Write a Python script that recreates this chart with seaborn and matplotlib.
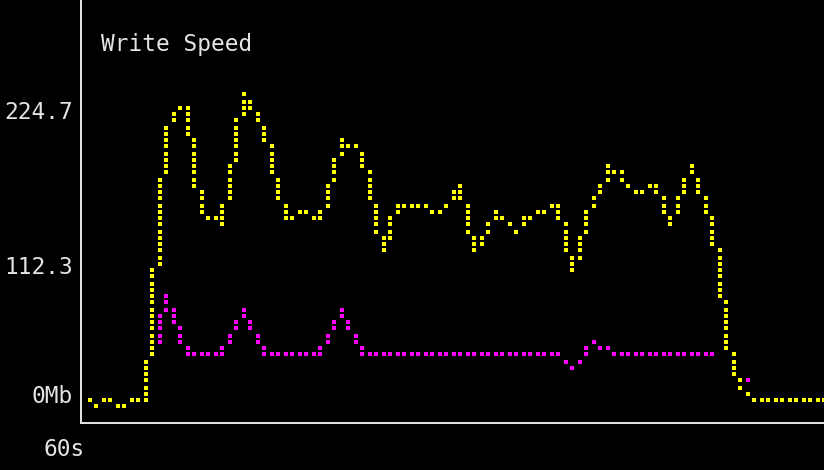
import numpy as np
import pandas as pd
import matplotlib
matplotlib.use("Agg")
import matplotlib.pyplot as plt
import seaborn as sns

# ---------------- data (Mb/s per sample) ----------------
TITLE = "Write Speed"
Y_TICK_LABELS = ["224.7", "112.3", "0Mb"]
X_LABEL = "60s"
SCALE_MAX_MB = 224.7

samples = list(range(106))

write_total = [
    4.68, 0.0, 4.68, 4.68, 0.0, 0.0, 4.68, 2.81, 4.68, 65.54,
    135.76, 196.61, 210.66, 215.34, 215.34, 173.21, 141.37, 135.76, 135.76, 131.08,
    163.84, 188.19, 224.70, 218.15, 208.78, 197.55, 180.70, 154.48, 137.63, 135.76,
    140.44, 140.44, 135.76, 133.88, 154.48, 168.53, 191.93, 187.25, 187.25, 180.70,
    161.03, 133.88, 112.35, 131.08, 145.12, 145.12, 145.12, 145.12, 145.12, 140.44,
    140.44, 145.12, 151.67, 159.16, 135.76, 112.35, 121.71, 129.20, 140.44, 135.76,
    131.08, 126.39, 133.88, 137.63, 140.44, 140.44, 145.12, 145.12, 121.71, 98.31,
    117.03, 132.95, 149.80, 152.61, 173.21, 168.53, 166.65, 159.16, 154.48, 154.48,
    159.16, 159.16, 146.99, 131.08, 146.99, 158.23, 173.21, 159.16, 146.99, 128.27,
    101.12, 53.37, 26.22, 15.92, 9.36, 4.68, 4.68, 4.68, 4.68, 4.68,
    4.68, 4.68, 4.68, 4.68, 4.68, 4.68,
]

write_other = [
    None, None, None, None, None, None, None, None, None, 37.45,
    56.18, 79.58, 65.54, 51.49, 37.45, 37.45, 37.45, 37.45, 37.45, 37.45,
    49.62, 58.05, 70.22, 58.05, 49.62, 37.45, 37.45, 37.45, 37.45, 37.45,
    37.45, 37.45, 37.45, 37.45, 49.62, 58.05, 70.22, 58.05, 49.62, 37.45,
    37.45, 37.45, 37.45, 37.45, 37.45, 37.45, 37.45, 37.45, 37.45, 37.45,
    37.45, 37.45, 37.45, 37.45, 37.45, 37.45, 37.45, 37.45, 37.45, 37.45,
    37.45, 37.45, 37.45, 37.45, 37.45, 37.45, 37.45, 37.45, 32.77, 28.09,
    32.77, 40.26, 46.81, 42.13, 42.13, 37.45, 37.45, 37.45, 37.45, 37.45,
    37.45, 37.45, 37.45, 37.45, 37.45, 37.45, 37.45, 37.45, 37.45, 37.45,
    None, None, None, None, 18.73, None, None, None, None, None,
    None, None, None, None, None, None,
]

# ---------------- layout / style ----------------
W_PX, H_PX, DPI = 824, 470, 100
AX_LEFT_PX, AX_BOTTOM_PX = 81, 423
ZERO_ROW_PX = 406          # pixel row of the lowest braille dot
ROWS = 48                  # braille dot rows from 0 to the scale max
FIRST_COL_PX = 90
COL_STEP_PX = 7
CELL_H, DOT_DY = 26, 6
TEXT_COLOR = "#e4e4e4"
AXIS_COLOR = "#e0e0e0"
YELLOW, MAGENTA = "#ffff00", "#ff00ff"
FONT = "DejaVu Sans Mono"
FONT_PT = 16.4
DOT_PX = 4.0

mb_per_row = SCALE_MAX_MB / ROWS
mb_per_px = SCALE_MAX_MB / (CELL_H * ROWS / 4)


def braille_dots(values, xs):
    """Rasterise a line through the samples onto the braille dot grid."""
    v = np.array([np.nan if a is None else a for a in values], float) / mb_per_row
    out_x, out_y = [], []
    n = len(v)
    for i in range(n):
        if np.isnan(v[i]):
            continue
        pts = [v[i]]
        for j in (i - 1, i + 1):
            if 0 <= j < n and not np.isnan(v[j]):
                pts.append((v[i] + v[j]) / 2)
        lo, hi = min(pts), max(pts)
        rows = set(range(int(np.ceil(lo - 0.01)), int(np.floor(hi + 0.01)) + 1))
        rows.add(int(round(v[i])))
        for k in sorted(rows):
            # braille cells: 2 dot columns x 4 dot rows
            out_x.append(xs[i] - (xs[i] % 2) / COL_STEP_PX)
            out_y.append((CELL_H * (k // 4) + DOT_DY * (k % 4)) * mb_per_px)
    return pd.DataFrame({"t": out_x, "mb": out_y})


sns.set_style("dark")
plt.rcParams["font.family"] = [FONT, "DejaVu Sans"]

fig = plt.figure(figsize=(W_PX / DPI, H_PX / DPI), dpi=DPI, facecolor="black")
ax = fig.add_axes([AX_LEFT_PX / W_PX, (H_PX - AX_BOTTOM_PX) / H_PX,
                   (W_PX - AX_LEFT_PX) / W_PX, AX_BOTTOM_PX / H_PX])
ax.set_facecolor("black")

marker_area = (DOT_PX * 72 / DPI) ** 2
other_df = braille_dots(write_other, samples)
total_df = braille_dots(write_total, samples)
sns.scatterplot(data=other_df, x="t", y="mb", ax=ax, marker="s", s=marker_area,
                color=MAGENTA, linewidth=0, edgecolor="none", legend=False, zorder=2)
sns.scatterplot(data=total_df, x="t", y="mb", ax=ax, marker="s", s=marker_area,
                color=YELLOW, linewidth=0, edgecolor="none", legend=False, zorder=3)

ax.set_xlim((AX_LEFT_PX - FIRST_COL_PX) / COL_STEP_PX, (W_PX - FIRST_COL_PX) / COL_STEP_PX)
ax.set_ylim(-(AX_BOTTOM_PX - ZERO_ROW_PX) * mb_per_px, ZERO_ROW_PX * mb_per_px)

for side in ("top", "right"):
    ax.spines[side].set_visible(False)
for side in ("left", "bottom"):
    ax.spines[side].set_visible(True)
    ax.spines[side].set_color(AXIS_COLOR)
    ax.spines[side].set_linewidth(2 * 72 / DPI)
ax.grid(False)

# tick labels sit on terminal text rows (baselines in pixels)
label_baselines_px = [119, 274, 403]
ax.set_yticks([(ZERO_ROW_PX - b) * mb_per_px for b in label_baselines_px])
ax.set_yticklabels(Y_TICK_LABELS)
ax.tick_params(axis="y", length=0, pad=6, labelsize=FONT_PT, labelcolor=TEXT_COLOR)
for lab in ax.get_yticklabels():
    lab.set_verticalalignment("baseline")
    lab.set_fontfamily(FONT)
ax.set_xticks([])
ax.set_xlabel("")
ax.set_ylabel("")

fig.text(101 / W_PX, 1 - 51 / H_PX, TITLE, color=TEXT_COLOR, fontsize=FONT_PT,
         family=FONT, ha="left", va="baseline")
fig.text(64.5 / W_PX, 1 - 456 / H_PX, X_LABEL, color=TEXT_COLOR, fontsize=FONT_PT,
         family=FONT, ha="center", va="baseline")

fig.savefig("out.png", dpi=DPI, facecolor="black")
